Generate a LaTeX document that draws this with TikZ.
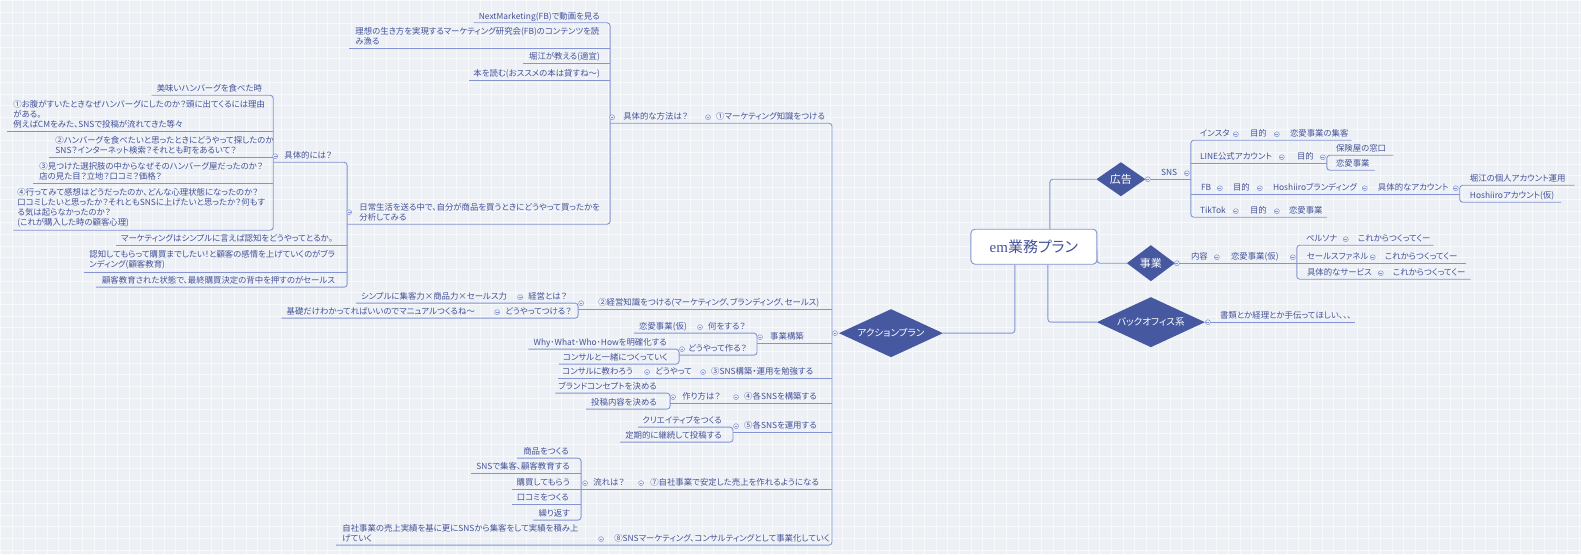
\documentclass[tikz,border=0pt]{standalone}
\usepackage{fontspec}
\setmainfont{Noto Sans CJK JP}[RawFeature=+palt]
\newfontfamily\serifem{Liberation Serif}
\usetikzlibrary{shapes.geometric,calc}
\pgfdeclarelayer{background}
\pgfsetlayers{background,main}
\definecolor{bgc}{RGB}{237,241,246}
\definecolor{gridc}{RGB}{247,249,251}
\definecolor{linec}{RGB}{132,148,210}
\definecolor{textc}{RGB}{68,82,152}
\definecolor{diamc}{RGB}{70,88,160}
\newcommand\fsz{\fontsize{8.4}{10.2}\selectfont}
\begin{document}
\begin{tikzpicture}[x=1pt,y=-1pt,
  txt/.style={inner sep=0pt, text=textc, font=\fsz, text height=6.9pt, text depth=1pt},
  L/.style={txt, anchor=south east},
  R/.style={txt, anchor=south west},
  M/.style={inner sep=0pt, text=textc, font=\fsz, align=left, anchor=south west},
  fold/.style={circle, draw=linec, line width=0.5pt, inner sep=0pt, minimum size=5pt, fill=bgc,
    path picture={\draw[linec, line width=0.5pt] ([xshift=-1.4pt]path picture bounding box.center) -- ([xshift=1.4pt]path picture bounding box.center);}},
  ln/.style={draw=linec, line width=0.9pt, rounded corners=3pt},
  diam/.style={diamond, fill=diamc, text=white, inner sep=0pt, outer sep=0pt},
  rootbox/.style={rectangle, rounded corners=4pt, draw=linec, line width=0.9pt, fill=white,
    minimum width=126pt, minimum height=35pt, text=textc, font=\fontsize{15}{17}\selectfont}
]
\begin{pgfonlayer}{background}
\fill[bgc] (0,0) rectangle (1581,554);
\begin{scope}[y=1pt]
\draw[gridc, line width=0.6pt] (0,-554) grid[step=11.7pt] (1581,0);
\end{scope}
\end{pgfonlayer}
\useasboundingbox (0,0) rectangle (1581,554);

% ---------- root and main branches ----------
\node[rootbox] (root) at (1034,246.5) {{\serifem em}業務プラン};
\node[diam, aspect=2.17, minimum width=104pt, minimum height=48pt, font=\fontsize{9.6}{12}\selectfont] (act) at (891,333) {アクションプラン};
\node[diam, aspect=1.44, minimum width=49pt, minimum height=34pt, font=\fontsize{11}{13}\selectfont] (ad) at (1121,179) {広告};
\node[diam, aspect=1.33, minimum width=48pt, minimum height=36pt, font=\fontsize{11}{13}\selectfont] (biz) at (1151,263) {事業};
\node[diam, aspect=2.16, minimum width=108pt, minimum height=50pt, font=\fontsize{9.6}{12}\selectfont] (bo) at (1151,322) {バックオフィス系};

% ---------- top group ----------
\node[L] (a1) at (600,20) {NextMarketing(FB)で動画を見る};
\node[M] (a2) at (355,45.5) {理想の生き方を実現するマーケティング研究会(FB)のコンテンツを読\\み漁る};
\node[L] (a3) at (600,60.5) {堀江が教える(適宜)};
\node[L] (a4) at (600,77.5) {本を読む(おススメの本は貸すね～)};
\node[M] (a5) at (359,221.5) {日常生活を送る中で、自分が商品を買うときにどうやって買ったかを\\分析してみる};
\node[R] (g1) at (623,120.5) {具体的な方法は？};
\node[R] (m1) at (716,120.5) {①マーケティング知識をつける};

% 日常生活 children
\node[R] (d1) at (284,159.5) {具体的には？};
\node[L] (d2) at (333,242.5) {マーケティングはシンプルに言えば認知をどうやってとるか。};
\node[M] (d3) at (89,269.5) {認知してもらって購買までしたい！と顧客の感情を上げていくのがブラ\\ンディング(顧客教育)};
\node[L] (d4) at (335,284.5) {顧客教育された状態で、最終購買決定の背中を押すのがセールス};

% 具体的には？ children
\node[L] (h1) at (262,92.5) {美味いハンバーグを食べた時};
\node[M] (h2) at (13,128.5) {①お腹がすいたときなぜハンバーグにしたのか？頭に出てくるには理由\\がある。\\例えばCMをみた、SNSで投稿が流れてきた等々};
\node[M] (h3) at (55,154.5) {②ハンバーグを食べたいと思ったときにどうやって探したのか\\SNS？インターネット検索？それとも町をあるいて？};
\node[M] (h4) at (39,180.5) {③見つけた選択肢の中からなぜそのハンバーグ屋だったのか？\\店の見た目？立地？口コミ？価格？};
\node[M] (h5) at (17,227.5) {④行ってみて感想はどうだったのか、どんな心理状態になったのか？\\口コミしたいと思ったか？それともSNSに上げたいと思ったか？何もす\\る気は起らなかったのか？\\(これが購入した時の顧客心理)};

% ② group
\node[R] (e1) at (598,306.5) {②経営知識をつける(マーケティング、ブランディング、セールス)};
\node[R] (e2) at (528,300.5) {経営とは？};
\node[L] (e3) at (507,300.5) {シンプルに集客力×商品力×セールス力};
\node[R] (e4) at (505,315.5) {どうやってつける？};
\node[L] (e5) at (475,315.5) {基礎だけわかってればいいのでマニュアルつくるね～};

% 事業構築 group
\node[R] (j1) at (770,340.5) {事業構築};
\node[R] (j2) at (708,330.5) {何をする？};
\node[L] (j3) at (687,330.5) {恋愛事業(仮)};
\node[R] (j4) at (688,352.5) {どうやって作る？};
\node[L] (j5) at (667,346.5) {Why･What･Who･Howを明確化する};
\node[L] (j6) at (668,361.5) {コンサルと一緒につくっていく};

% ③ group
\node[R] (k1) at (711,375.5) {③SNS構築・運用を勉強する};
\node[R] (k2) at (655,375.5) {どうやって};
\node[L] (k3) at (633,375.5) {コンサルに教わろう};

% ④ group
\node[R] (n1) at (744,400.5) {④各SNSを構築する};
\node[R] (n2) at (682,400.5) {作り方は？};
\node[L] (n3) at (657,390.5) {ブランドコンセプトを決める};
\node[L] (n4) at (657,406.5) {投稿内容を決める};

% ⑤ group
\node[R] (o1) at (744,429.5) {⑤各SNSを運用する};
\node[L] (o2) at (722,424.5) {クリエイティブをつくる};
\node[L] (o3) at (722,439.5) {定期的に継続して投稿する};

% ⑦ group
\node[R] (q1) at (650,486.5) {⑦自社事業で安定した売上を作れるようになる};
\node[R] (q2) at (593,486.5) {流れは？};
\node[L] (q3) at (569,455.5) {商品をつくる};
\node[L] (q4) at (570,470.5) {SNSで集客、顧客教育する};
\node[L] (q5) at (570,486.5) {購買してもらう};
\node[L] (q6) at (569,501.5) {口コミをつくる};
\node[L] (q7) at (570,517.5) {繰り返す};

% ⑧ group
\node[R] (r1) at (614,542.5) {⑧SNSマーケティング、コンサルティングとして事業化していく};
\node[M] (r2) at (342,542.5) {自社事業の売上実績を基に更にSNSから集客をして実績を積み上\\げていく};

% ---------- 広告 ----------
\node[R] (s0) at (1161,176.5) {SNS};
\node[R] (s1) at (1200,137.5) {インスタ};
\node[R] (s2) at (1250,137.5) {目的};
\node[R] (s3) at (1290,137.5) {恋愛事業の集客};
\node[R] (t1) at (1200,160.5) {LINE公式アカウント};
\node[R] (t2) at (1297,160.5) {目的};
\node[R] (t3) at (1336,152.5) {保険屋の窓口};
\node[R] (t4) at (1336,167.5) {恋愛事業};
\node[R] (u1) at (1201,191.5) {FB};
\node[R] (u2) at (1233,191.5) {目的};
\node[R] (u3) at (1273,191.5) {Hoshiiroブランディング};
\node[R] (u4) at (1378,191.5) {具体的なアカウント};
\node[R] (u5) at (1470,182.5) {堀江の個人アカウント運用};
\node[R] (u6) at (1470,199.5) {Hoshiiroアカウント(仮)};
\node[R] (v1) at (1200,214.5) {TikTok};
\node[R] (v2) at (1250,214.5) {目的};
\node[R] (v3) at (1289,214.5) {恋愛事業};

% ---------- 事業 ----------
\node[R] (w1) at (1191,260.5) {内容};
\node[R] (w2) at (1231,260.5) {恋愛事業(仮)};
\node[R] (x1) at (1306,242.5) {ペルソナ};
\node[R] (x2) at (1358,242.5) {これからつくってくー};
\node[R] (y1) at (1307,260.5) {セールスファネル};
\node[R] (y2) at (1385,260.5) {これからつくってくー};
\node[R] (z1) at (1307,276.5) {具体的なサービス};
\node[R] (z2) at (1393,276.5) {これからつくってくー};

% ---------- バックオフィス系 ----------
\node[R] (bo1) at (1220,319.5) {書類とか経理とか手伝ってほしい、、、};

% ---------- connectors ----------
\begin{pgfonlayer}{background}
% root
\draw[ln] (act.east) -- (1015,333) -- (root.south -| 1015,0);
\draw[ln] (root.north -| 1050,0) -- (1050,179) -- (ad.west);
\draw[ln] (root.south -| 1048,0) -- (1048,322) -- (bo.west);
\draw[ln] (1097,250) -- (1097,263) -- (biz.west);
% spine
\draw[ln] (610,123) -- (832,123) -- (832,545) -- (336,545);
% top group
\draw[ln] ($(a1.west|-0,22.5)+(-5,0)$) -- (610,22.5) -- (610,224) -- (347,224);
\draw[ln] (349,48) -- (610,48);
\draw[ln] ($(a3.west|-0,63)+(-6,0)$) -- (610,63);
\draw[ln] ($(a4.west|-0,80)+(-4,0)$) -- (610,80);
% 日常生活 children
\draw[ln] (273,162) -- (347,162) -- (347,287) -- ($(d4.west|-0,287)+(-6,0)$);
\draw[ln] ($(d2.west|-0,245)+(-5,0)$) -- (347,245);
\draw[ln] (84,272) -- (347,272);
% 具体的には？ children
\draw[ln] ($(h1.west|-0,95)+(-5,0)$) -- (273,95) -- (273,230) -- (13,230);
\draw[ln] (7,131) -- (273,131);
\draw[ln] (49,157) -- (273,157);
\draw[ln] (33,183) -- (273,183);
% ②
\draw[ln] ($(e3.west|-0,303)+(-5,0)$) -- (578,303) -- (578,318) -- ($(e5.west|-0,318)+(-5,0)$);
\draw[ln] (578,309) -- (832,309);
% 事業構築
\draw[ln] ($(j3.west|-0,333)+(-5,0)$) -- (757,333) -- (757,355) -- (679,355);
\draw[ln] ($(j5.west|-0,349)+(-5,0)$) -- (679,349) -- (679,364) -- ($(j6.west|-0,364)+(-4,0)$);
\draw[ln] (757,343) -- (832,343);
% ③
\draw[ln] ($(k3.west|-0,378)+(-4,0)$) -- (832,378);
% ④
\draw[ln] ($(n3.west|-0,393)+(-3,0)$) -- (670,393) -- (670,409) -- ($(n4.west|-0,409)+(-5,0)$);
\draw[ln] (670,403) -- (832,403);
% ⑤
\draw[ln] ($(o2.west|-0,427)+(-4,0)$) -- (733,427) -- (733,442) -- ($(o3.west|-0,442)+(-5,0)$);
\draw[ln] (733,432) -- (832,432);
% ⑦
\draw[ln] ($(q3.west|-0,458)+(-6,0)$) -- (581,458) -- (581,520) -- ($(q7.west|-0,520)+(-5,0)$);
\draw[ln] ($(q4.west|-0,473)+(-5,0)$) -- (581,473);
\draw[ln] ($(q6.west|-0,504)+(-5,0)$) -- (581,504);
\draw[ln] ($(q5.west|-0,489)+(-5,0)$) -- (832,489);
% 広告
\draw[ln] (1148,179) -- (1191,179);
\draw[ln] ($(s3.east|-0,140)+(3,0)$) -- (1191,140) -- (1191,217) -- ($(v3.east|-0,217)+(4,0)$);
\draw[ln] (1191,163) -- (1327,163);
\draw[ln] ($(t3.east|-0,155)+(7,0)$) -- (1327,155) -- (1327,170) -- ($(t4.east|-0,170)+(5,0)$);
\draw[ln] (1191,194) -- (1460,194);
\draw[ln] ($(u5.east|-0,185)+(9,0)$) -- (1460,185) -- (1460,202) -- ($(u6.east|-0,202)+(7,0)$);
% 事業
\draw[ln] (1177,263) -- ($(y2.east|-0,263)+(8,0)$);
\draw[ln] ($(x2.east|-0,245)+(3,0)$) -- (1297,245) -- (1297,279) -- ($(z2.east|-0,279)+(5,0)$);
% バックオフィス系
\draw[ln] (1208,322) -- ($(bo1.east|-0,322)+(3,0)$);
\end{pgfonlayer}

% ---------- fold markers ----------
\node[fold] (fa) at (835,333) {};
\node[fold] (fb) at (1148,179) {};
\node[fold] (fc) at (1177,263) {};
\node[fold] (fd) at (1208,322) {};
\node[fold] (f01) at (612,117) {};
\node[fold] (f02) at (708,117) {};
\node[fold] (f03) at (349,212) {};
\node[fold] (f04) at (275,156) {};
\node[fold] (f05) at (581,303) {};
\node[fold] (f06) at (520,297) {};
\node[fold] (f07) at (497,312) {};
\node[fold] (f08) at (760,337) {};
\node[fold] (f09) at (700,327) {};
\node[fold] (f10) at (682,349) {};
\node[fold] (f11) at (703,372) {};
\node[fold] (f12) at (647,372) {};
\node[fold] (f13) at (736,397) {};
\node[fold] (f14) at (673,397) {};
\node[fold] (f15) at (736,426) {};
\node[fold] (f16) at (641,483) {};
\node[fold] (f17) at (585,483) {};
\node[fold] (f18) at (601,539) {};
\node[fold] (f19) at (1187,173) {};
\node[fold] (f20) at (1236,134) {};
\node[fold] (f21) at (1277,134) {};
\node[fold] (f22) at (1282,157) {};
\node[fold] (f23) at (1323,157) {};
\node[fold] (f24) at (1220,188) {};
\node[fold] (f25) at (1260,188) {};
\node[fold] (f26) at (1365,188) {};
\node[fold] (f27) at (1456,188) {};
\node[fold] (f28) at (1236,211) {};
\node[fold] (f29) at (1277,211) {};
\node[fold] (f30) at (1217,257) {};
\node[fold] (f31) at (1293,257) {};
\node[fold] (f32) at (1346,239) {};
\node[fold] (f33) at (1373,257) {};
\node[fold] (f34) at (1381,273) {};
\end{tikzpicture}
\end{document}
